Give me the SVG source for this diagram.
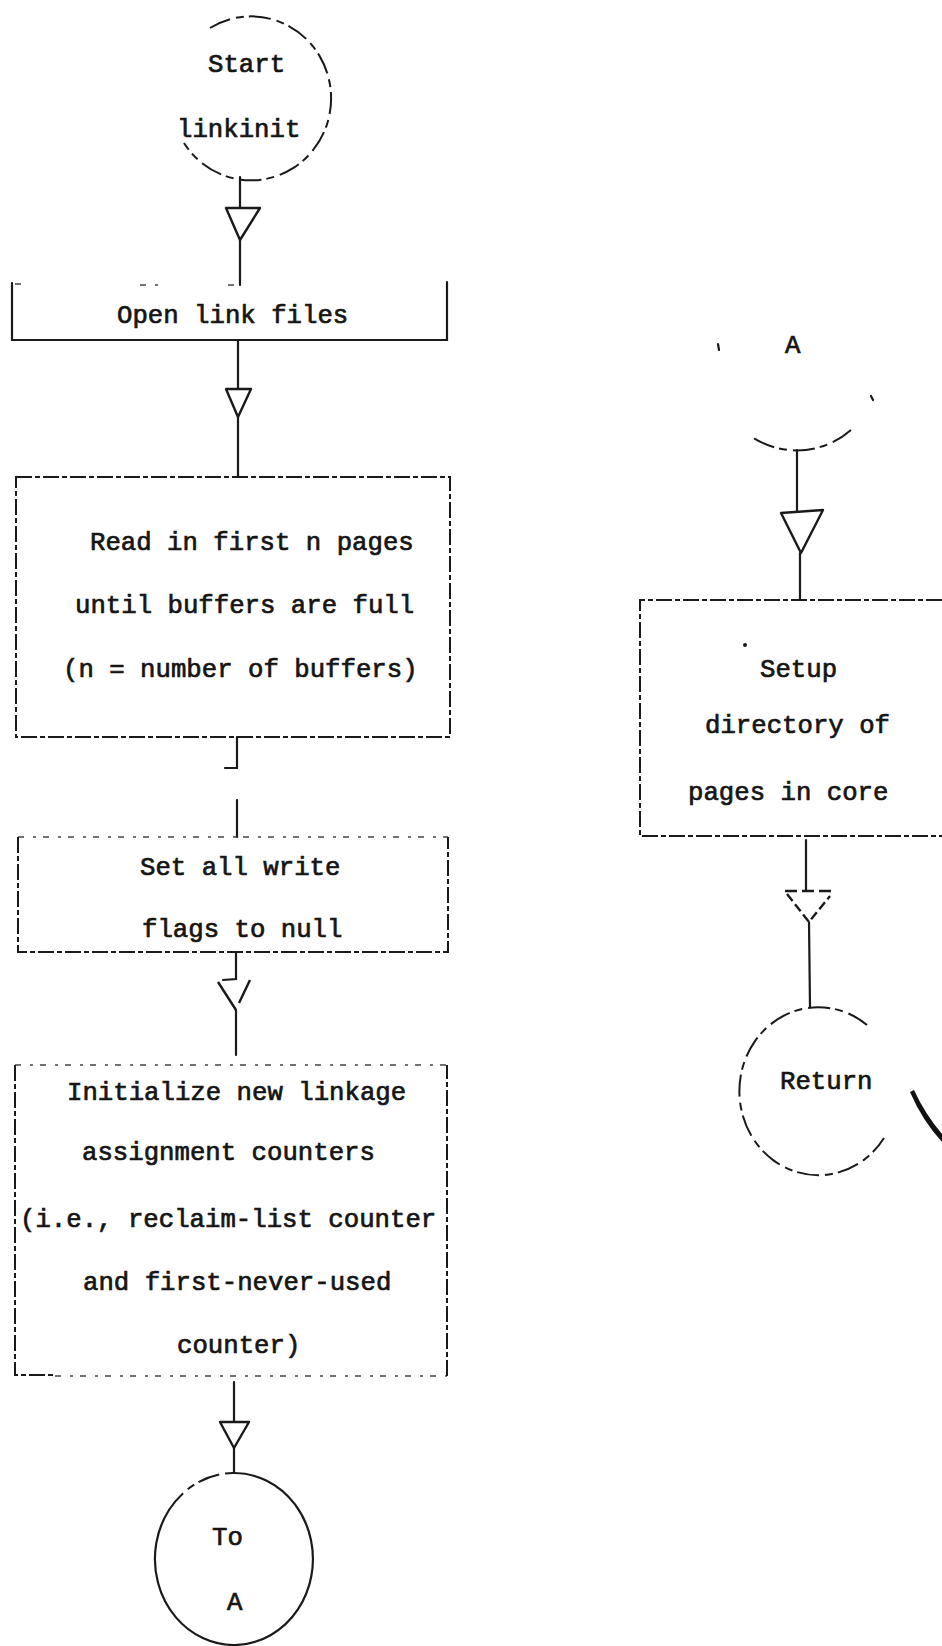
<svg xmlns="http://www.w3.org/2000/svg" width="942" height="1646" viewBox="0 0 942 1646">
<style>
  text { font-family: "Liberation Mono", "Courier New", monospace; font-size: 25.7px; fill: #151515; stroke: #151515; stroke-width: 0.7; }
  .ln { fill: none; stroke: #1a1a1a; stroke-width: 2.2; stroke-linecap: round; }
  .bx { fill: none; stroke: #1a1a1a; stroke-width: 2; stroke-dasharray: 16 3 5 3; }
  .fa { fill: none; stroke: #444; stroke-width: 1.6; stroke-dasharray: 6 9 3 7; }
  .ci { fill: none; stroke: #1a1a1a; stroke-width: 2; stroke-dasharray: 22 6 8 5; }
  .ar { fill: none; stroke: #1a1a1a; stroke-width: 2.4; stroke-linejoin: round; }
</style>
<rect width="942" height="1646" fill="#ffffff"/>

<g id="start">
  <path class="ci" d="M 210,28 A 80 82 0 1 1 184,143"/>
  <text x="208" y="72">Start</text>
  <text x="177" y="137">linkinit</text>
</g>

<g id="open-link-files">
  <path class="ln" d="M 12,283 L 12,340 L 447,340 L 447,282"/>
  <path class="fa" d="M 15,284 L 22,284 M 140,285 L 160,285 M 228,285 L 240,285"/>
  <text x="117" y="323">Open link files</text>
</g>

<g id="read-pages">
  <path class="bx" d="M 16,477 L 450,477 L 450,737 L 16,737 Z"/>
  <text x="90" y="550">Read in first n pages</text>
  <text x="75" y="613">until buffers are full</text>
  <text x="63" y="677">(n = number of buffers)</text>
</g>

<g id="set-flags">
  <path class="fa" d="M 18,837 L 448,837"/>
  <path class="bx" d="M 18,837 L 18,952 L 448,952 L 448,837"/>
  <text x="140" y="875">Set all write</text>
  <text x="142" y="937">flags to null</text>
</g>

<g id="init-counters">
  <path class="fa" d="M 15,1065 L 447,1065"/>
  <path class="bx" d="M 15,1065 L 15,1375 L 55,1375"/>
  <path class="fa" d="M 55,1376 L 447,1376"/>
  <path class="bx" d="M 447,1376 L 447,1065"/>
  <text x="67" y="1100">Initialize new linkage</text>
  <text x="82" y="1160">assignment counters</text>
  <text x="20" y="1227">(i.e., reclaim-list counter</text>
  <text x="83" y="1290">and first-never-used</text>
  <text x="177" y="1353">counter)</text>
</g>

<g id="to-a">
  <path class="ln" d="M 234,1473 A 79 86 0 1 1 169,1510"/>
  <path class="ci" d="M 169,1510 A 79 86 0 0 1 234,1473" stroke-dasharray="10 6"/>
  <text x="212" y="1545">To</text>
  <text x="227" y="1610">A</text>
</g>

<g id="connector-a">
  <path class="ci" d="M 851,430 A 82 82 0 0 1 752,437"/>
  <path class="ln" d="M 718,344 L 719,350 M 871,396 L 873,400"/>
  <text x="785" y="353">A</text>
</g>

<g id="setup-directory">
  <path class="bx" d="M 942,600 L 640,600 L 640,836 L 942,836"/>
  <circle cx="745" cy="645" r="2" fill="#1a1a1a"/>
  <text x="760" y="677">Setup</text>
  <text x="705" y="733">directory of</text>
  <text x="688" y="800">pages in core</text>
</g>

<g id="return">
  <path class="ci" d="M 867,1025 A 79 84 0 1 0 884,1138"/>
  <text x="780" y="1089">Return</text>
  <path d="M 910,1092 Q 922,1120 942,1142 L 942,1134 Q 925,1114 914,1090 Z" fill="#111"/>
</g>

<g id="connectors">
  <path class="ln" d="M 240,177 L 240,208 M 240,240 L 240,285"/>
  <polygon class="ar" points="226,208 260,208 240,240"/>

  <path class="ln" d="M 238,340 L 238,389 M 238,417 L 238,477"/>
  <polygon class="ar" points="226,389 251,389 238,417"/>

  <path class="ln" d="M 237,737 L 237,768 L 225,768 M 237,800 L 237,837"/>

  <path class="ln" d="M 236,953 L 236,979 L 223,980 M 236,1010 L 236,1055"/>
  <path class="ar" d="M 218,982 L 236,1010 M 250,980 L 239,1003"/>

  <path class="ln" d="M 234,1382 L 234,1422 M 234,1448 L 234,1473"/>
  <polygon class="ar" points="220,1422 249,1422 234,1448"/>

  <path class="ln" d="M 797,450 L 797,512 M 800,553 L 800,600"/>
  <polygon class="ar" points="781,513 823,510 801,553"/>

  <path class="ln" d="M 806,840 L 806,890 M 809,922 L 810,1007"/>
  <path class="ar" d="M 785,891 L 832,891" stroke-dasharray="12 5"/>
  <path class="ar" d="M 787,894 L 809,922 L 830,896" stroke-dasharray="9 4"/>
</g>
</svg>
